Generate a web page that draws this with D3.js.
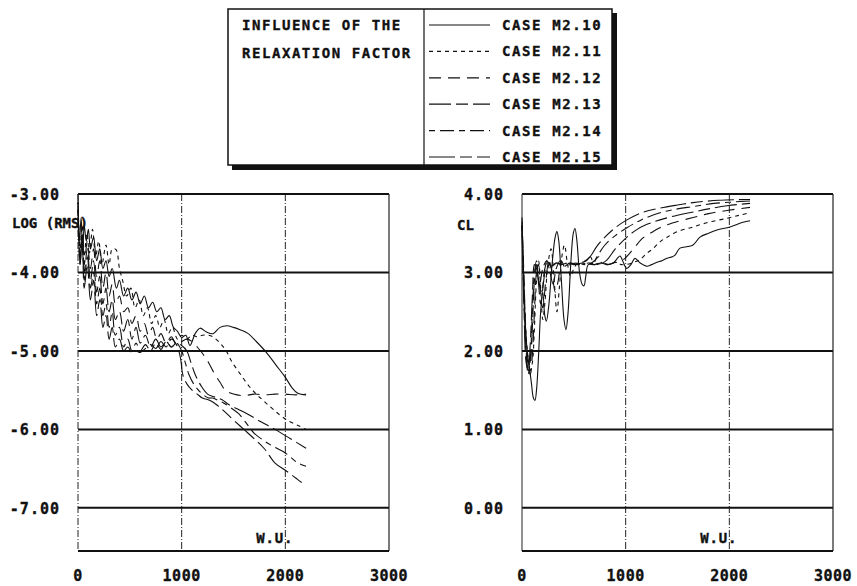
<!DOCTYPE html>
<html>
<head>
<meta charset="utf-8">
<script src="https://cdn.jsdelivr.net/npm/d3@7"></script>
<style>
  body { margin: 0; background: #fff; }
  text { font-family: "DejaVu Sans Mono", monospace; font-weight: bold; fill: #111; stroke: #111; stroke-width: 0.35px; }
</style>
</head>
<body>
<div class="chart"></div>
<script>
// tick values
const xTicks = [0, 1000, 2000, 3000];
const rmsTicks = [-3, -4, -5, -6, -7];
const clTicks = [4, 3, 2, 1, 0];

const caseNames = ["CASE M2.10", "CASE M2.11", "CASE M2.12", "CASE M2.13", "CASE M2.14", "CASE M2.15"];
const titleLines = ["INFLUENCE OF THE", "RELAXATION FACTOR"];

// LOG(RMS) history, [work units, value]
const rms10 = [[0,-3.0],[15,-3.6],[30,-3.3],[45,-3.75],[60,-3.4],[80,-3.6],[100,-3.45],[120,-3.7],[150,-3.55],[180,-3.85],[210,-3.7],[240,-3.95],[270,-3.85],[300,-4.05],[330,-3.95],[370,-4.2],[400,-4.1],[440,-4.3],[480,-4.2],[520,-4.35],[560,-4.25],[600,-4.4],[640,-4.3],[680,-4.45],[720,-4.38],[760,-4.5],[800,-4.45],[840,-4.6],[880,-4.55],[920,-4.7],[960,-4.75],[1000,-4.83],[1040,-4.8],[1080,-4.93],[1130,-4.78],[1177,-4.71],[1240,-4.76],[1303,-4.78],[1370,-4.7],[1438,-4.68],[1500,-4.7],[1563,-4.73],[1642,-4.78],[1720,-4.88],[1824,-5.03],[1910,-5.18],[1997,-5.33],[2065,-5.47],[2120,-5.54],[2200,-5.56]];
const rms11 = [[0,-3.1],[20,-3.7],[40,-3.4],[60,-3.8],[85,-3.5],[110,-3.75],[140,-3.45],[170,-3.8],[200,-3.6],[230,-3.9],[270,-3.65],[300,-3.9],[330,-3.7],[367,-3.71],[400,-3.95],[430,-4.1],[470,-4.3],[510,-4.2],[550,-4.45],[590,-4.35],[630,-4.55],[670,-4.45],[710,-4.65],[750,-4.55],[790,-4.7],[830,-4.6],[870,-4.78],[910,-4.7],[960,-4.85],[1000,-4.8],[1050,-4.85],[1100,-4.8],[1150,-4.82],[1200,-4.8],[1260,-4.8],[1300,-4.82],[1370,-4.9],[1430,-5.0],[1485,-5.14],[1563,-5.29],[1650,-5.45],[1720,-5.55],[1785,-5.63],[1870,-5.73],[1950,-5.82],[2040,-5.9],[2123,-5.95],[2200,-6.0]];
const rms12 = [[0,-3.2],[20,-3.8],[40,-3.5],[60,-3.9],[90,-3.6],[120,-3.95],[150,-3.7],[180,-4.05],[210,-3.85],[240,-4.2],[270,-4.0],[300,-4.3],[330,-4.15],[360,-4.4],[400,-4.3],[440,-4.5],[480,-4.45],[520,-4.65],[560,-4.55],[600,-4.75],[640,-4.65],[680,-4.8],[720,-4.7],[760,-4.85],[800,-4.78],[850,-4.9],[900,-4.82],[950,-4.92],[1000,-4.88],[1050,-4.85],[1100,-4.88],[1150,-4.95],[1200,-5.03],[1260,-5.15],[1320,-5.3],[1370,-5.4],[1420,-5.5],[1500,-5.55],[1600,-5.57],[1700,-5.55],[1800,-5.56],[1900,-5.55],[2000,-5.55],[2100,-5.56],[2200,-5.55]];
const rms13 = [[0,-3.3],[20,-3.9],[40,-3.6],[60,-4.0],[90,-3.7],[120,-4.1],[150,-3.85],[180,-4.25],[210,-4.05],[240,-4.4],[270,-4.2],[300,-4.5],[330,-4.35],[360,-4.6],[400,-4.5],[440,-4.75],[480,-4.6],[520,-4.85],[560,-4.7],[600,-4.9],[650,-4.8],[700,-4.95],[750,-4.85],[800,-4.95],[850,-4.88],[900,-4.95],[950,-4.9],[1000,-4.93],[1050,-5.0],[1090,-5.15],[1130,-5.3],[1190,-5.45],[1250,-5.55],[1300,-5.58],[1350,-5.6],[1400,-5.63],[1450,-5.68],[1540,-5.74],[1630,-5.8],[1760,-5.9],[1900,-6.0],[2050,-6.12],[2200,-6.24]];
const rms14 = [[0,-3.2],[20,-3.8],[40,-3.55],[60,-4.1],[90,-3.8],[120,-4.2],[150,-4.0],[180,-4.4],[210,-4.2],[240,-4.55],[270,-4.4],[300,-4.7],[330,-4.5],[360,-4.8],[400,-4.7],[440,-4.95],[480,-4.85],[520,-5.0],[560,-4.9],[600,-5.0],[650,-4.92],[700,-5.0],[750,-4.9],[800,-4.98],[850,-4.88],[900,-4.95],[950,-4.9],[1000,-5.0],[1035,-5.15],[1070,-5.3],[1130,-5.45],[1200,-5.55],[1260,-5.6],[1300,-5.6],[1350,-5.63],[1400,-5.66],[1480,-5.73],[1550,-5.8],[1640,-5.95],[1700,-6.05],[1800,-6.15],[1900,-6.23],[2000,-6.3],[2123,-6.43],[2200,-6.47]];
const rms15 = [[0,-3.1],[20,-3.9],[40,-3.5],[60,-4.2],[90,-3.9],[120,-4.35],[150,-4.1],[180,-4.55],[210,-4.35],[240,-4.7],[270,-4.55],[300,-4.85],[330,-4.7],[360,-4.95],[400,-4.85],[440,-5.0],[480,-4.95],[520,-5.02],[560,-5.0],[600,-5.02],[650,-4.97],[700,-4.92],[750,-4.97],[800,-4.88],[850,-4.95],[900,-4.85],[950,-4.92],[990,-5.1],[1010,-5.3],[1050,-5.42],[1100,-5.5],[1150,-5.55],[1200,-5.6],[1250,-5.62],[1300,-5.65],[1350,-5.7],[1420,-5.78],[1500,-5.88],[1600,-6.0],[1700,-6.12],[1800,-6.25],[1901,-6.43],[2000,-6.52],[2100,-6.62],[2162,-6.68],[2200,-6.71]];

// CL history, [work units, value]
const cl10 = [[0,3.6],[15,3.0],[30,2.4],[50,2.0],[70,1.8],[90,1.6],[110,1.4],[125,1.37],[140,1.5],[160,1.95],[180,2.5],[200,2.75],[220,2.45],[235,2.38],[260,2.6],[290,3.1],[320,3.45],[337,3.52],[355,3.4],[380,2.9],[405,2.4],[424,2.27],[445,2.5],[470,3.1],[495,3.5],[511,3.56],[530,3.4],[555,3.0],[580,2.85],[598,2.83],[615,2.95],[640,3.1],[700,3.1],[760,3.12],[820,3.1],[880,3.12],[920,3.18],[945,3.21],[980,3.12],[1010,3.05],[1050,3.1],[1090,3.18],[1140,3.12],[1205,3.08],[1250,3.1],[1302,3.13],[1350,3.15],[1398,3.18],[1450,3.2],[1476,3.22],[1524,3.31],[1600,3.33],[1650,3.35],[1717,3.45],[1800,3.5],[1881,3.54],[2006,3.58],[2132,3.64],[2200,3.66]];
const cl11 = [[0,3.6],[20,2.8],[40,2.2],[60,1.9],[80,1.75],[100,1.85],[120,2.3],[140,2.9],[160,3.15],[180,2.8],[200,2.4],[220,2.6],[250,3.1],[280,3.3],[310,2.9],[337,2.5],[360,2.8],[390,3.25],[410,3.35],[440,3.1],[470,2.95],[500,3.05],[540,3.12],[600,3.1],[660,3.12],[720,3.1],[780,3.12],[840,3.1],[900,3.13],[960,3.1],[1000,3.1],[1060,3.12],[1100,3.14],[1138,3.16],[1200,3.24],[1260,3.3],[1331,3.39],[1400,3.45],[1500,3.52],[1650,3.58],[1800,3.64],[1977,3.69],[2100,3.73],[2200,3.76]];
const cl12 = [[0,3.7],[20,2.9],[40,2.1],[60,1.8],[80,1.7],[100,1.95],[120,2.5],[140,3.0],[160,3.1],[180,2.7],[200,2.55],[230,2.9],[260,3.15],[290,3.0],[320,2.75],[350,2.9],[380,3.15],[420,3.05],[460,3.1],[520,3.12],[580,3.1],[640,3.12],[700,3.1],[760,3.12],[820,3.1],[880,3.12],[940,3.14],[993,3.18],[1080,3.31],[1167,3.44],[1250,3.51],[1331,3.57],[1450,3.63],[1650,3.7],[1800,3.75],[1977,3.79],[2200,3.83]];
const cl13 = [[0,3.65],[20,2.7],[40,2.0],[60,1.75],[80,1.85],[100,2.3],[120,2.9],[140,3.1],[160,2.85],[180,2.6],[210,2.9],[240,3.15],[270,3.0],[300,2.85],[330,3.05],[370,3.15],[410,3.08],[460,3.12],[520,3.1],[580,3.12],[640,3.1],[700,3.15],[740,3.2],[770,3.12],[820,3.16],[900,3.3],[1012,3.45],[1100,3.54],[1200,3.61],[1331,3.67],[1500,3.73],[1650,3.77],[1800,3.81],[1977,3.85],[2200,3.88]];
const cl14 = [[0,3.6],[20,2.6],[40,1.95],[60,1.7],[80,1.9],[100,2.5],[120,3.0],[140,3.15],[160,2.9],[190,2.75],[220,3.05],[250,3.15],[290,3.05],[330,3.12],[380,3.1],[440,3.12],[500,3.1],[560,3.12],[620,3.15],[660,3.2],[690,3.12],[723,3.2],[800,3.35],[900,3.47],[1012,3.57],[1150,3.67],[1331,3.76],[1500,3.81],[1650,3.84],[1850,3.88],[2200,3.91]];
const cl15 = [[0,3.55],[20,2.5],[40,1.85],[60,1.75],[80,2.1],[100,2.7],[120,3.1],[140,3.05],[170,2.85],[200,3.05],[240,3.15],[280,3.08],[330,3.12],[400,3.1],[470,3.12],[540,3.1],[600,3.14],[656,3.2],[720,3.33],[800,3.45],[900,3.57],[1012,3.67],[1150,3.76],[1331,3.82],[1500,3.86],[1650,3.89],[1900,3.92],[2200,3.93]];

const rmsSeries = [rms10, rms11, rms12, rms13, rms14, rms15];
const clSeries = [cl10, cl11, cl12, cl13, cl14, cl15];

// plotter line types, one per case
const dashes = [null, "4,4", "12,7", "22,5,12,5", "6,5,14,5", "26,5,12,5"];

const svg = d3.select(".chart")
  .append("svg")
  .attr("width", 857)
  .attr("height", 586)
  .style("background-color", "white");

// one panel: frame, grid, labels, curves
let plot_panel = function(x, y, yTicks, series, yName, yNamePos) {
  let g = svg.append("g");
  let [x0, x1] = x.range();
  let [y0, y1] = y.range();

  // vertical grid at 1000 and 2000, dash-dot like the plotter
  g.selectAll(".vgrid")
    .data(xTicks.slice(1, 3))
    .enter().append("line")
    .attr("x1", d => x(d)).attr("x2", d => x(d))
    .attr("y1", y0).attr("y2", y1 + 1)
    .attr("stroke", "#222")
    .attr("stroke-width", 1)
    .attr("stroke-dasharray", "7,2,1,2");

  // horizontal grid at each value tick
  g.selectAll(".hgrid")
    .data(yTicks)
    .enter().append("line")
    .attr("x1", x0).attr("x2", x1)
    .attr("y1", d => y(d)).attr("y2", d => y(d))
    .attr("stroke", "#111")
    .attr("stroke-width", 2);

  // frame
  g.append("line").attr("x1", x0).attr("x2", x0).attr("y1", y0).attr("y2", y1)
    .attr("stroke", "#222").attr("stroke-width", 1)
    .attr("stroke-dasharray", x0 < 300 ? "7,2,1,2" : null);
  g.append("line").attr("x1", x1).attr("x2", x1).attr("y1", y0).attr("y2", y1)
    .attr("stroke", "#222").attr("stroke-width", 1.2);
  g.append("line").attr("x1", x0).attr("x2", x1).attr("y1", y1).attr("y2", y1)
    .attr("stroke", "#111").attr("stroke-width", 1.8);

  // tick labels
  g.selectAll(".ylab")
    .data(yTicks)
    .enter().append("text")
    .attr("x", x0 - 18)
    .attr("y", d => y(d) + 6)
    .attr("text-anchor", "end")
    .style("font-size", "15px")
    .style("letter-spacing", "1px")
    .text(d => d.toFixed(2));

  g.selectAll(".xlab")
    .data(xTicks)
    .enter().append("text")
    .attr("x", d => x(d))
    .attr("y", 581)
    .attr("text-anchor", "middle")
    .style("font-size", "15px")
    .style("letter-spacing", "0.5px")
    .text(d => d);

  g.append("text")
    .attr("x", yNamePos[0]).attr("y", yNamePos[1])
    .style("font-size", "14px")
    .text(yName);

  g.append("text")
    .attr("x", x(1720)).attr("y", 543)
    .style("font-size", "14px")
    .style("letter-spacing", "0.8px")
    .text("W.U.");

  let line = d3.line()
    .x(d => x(d[0]))
    .y(d => y(d[1]))
    .curve(d3.curveCatmullRom.alpha(0.5));

  g.selectAll(".curve")
    .data(series)
    .enter().append("path")
    .attr("d", line)
    .attr("fill", "none")
    .attr("stroke", "#111")
    .attr("stroke-width", 1.1)
    .attr("stroke-dasharray", (d, i) => dashes[i]);
};

let xL = d3.scaleLinear().domain([0, 3000]).range([78, 389]);
let yL = d3.scaleLinear().domain([-3, -7.55]).range([194, 551]);
let xR = d3.scaleLinear().domain([0, 3000]).range([522, 833]);
let yR = d3.scaleLinear().domain([4, -0.55]).range([194, 551]);

plot_panel(xL, yL, rmsTicks, rmsSeries, "LOG (RMS)", [12, 228]);
plot_panel(xR, yR, clTicks, clSeries, "CL", [457, 230]);

// legend box with its heavy shadow
let legend = svg.append("g");
legend.append("rect")
  .attr("x", 612).attr("y", 13).attr("width", 5).attr("height", 157)
  .attr("fill", "#111");
legend.append("rect")
  .attr("x", 232).attr("y", 165).attr("width", 385).attr("height", 5)
  .attr("fill", "#111");
legend.append("rect")
  .attr("x", 228).attr("y", 9).attr("width", 384).attr("height", 156)
  .attr("fill", "white")
  .attr("stroke", "#111")
  .attr("stroke-width", 1.5);
legend.append("line")
  .attr("x1", 424).attr("x2", 424).attr("y1", 9).attr("y2", 165)
  .attr("stroke", "#111").attr("stroke-width", 1.2);

legend.selectAll(".title")
  .data(titleLines)
  .enter().append("text")
  .attr("x", 242)
  .attr("y", (d, i) => 30 + i * 27.5)
  .style("font-size", "14px")
  .style("letter-spacing", "1.55px")
  .text(d => d);

let rowY = d3.scaleLinear().domain([0, 5]).range([30, 162]);

legend.selectAll(".key")
  .data(caseNames)
  .enter().append("line")
  .attr("x1", 429).attr("x2", 490)
  .attr("y1", (d, i) => rowY(i) - 5).attr("y2", (d, i) => rowY(i) - 5)
  .attr("stroke", "#111")
  .attr("stroke-width", 1.2)
  .attr("stroke-dasharray", (d, i) => dashes[i]);

legend.selectAll(".name")
  .data(caseNames)
  .enter().append("text")
  .attr("x", 502)
  .attr("y", (d, i) => rowY(i))
  .style("font-size", "14px")
  .style("letter-spacing", "1.6px")
  .text(d => d);
</script>
</body>
</html>
